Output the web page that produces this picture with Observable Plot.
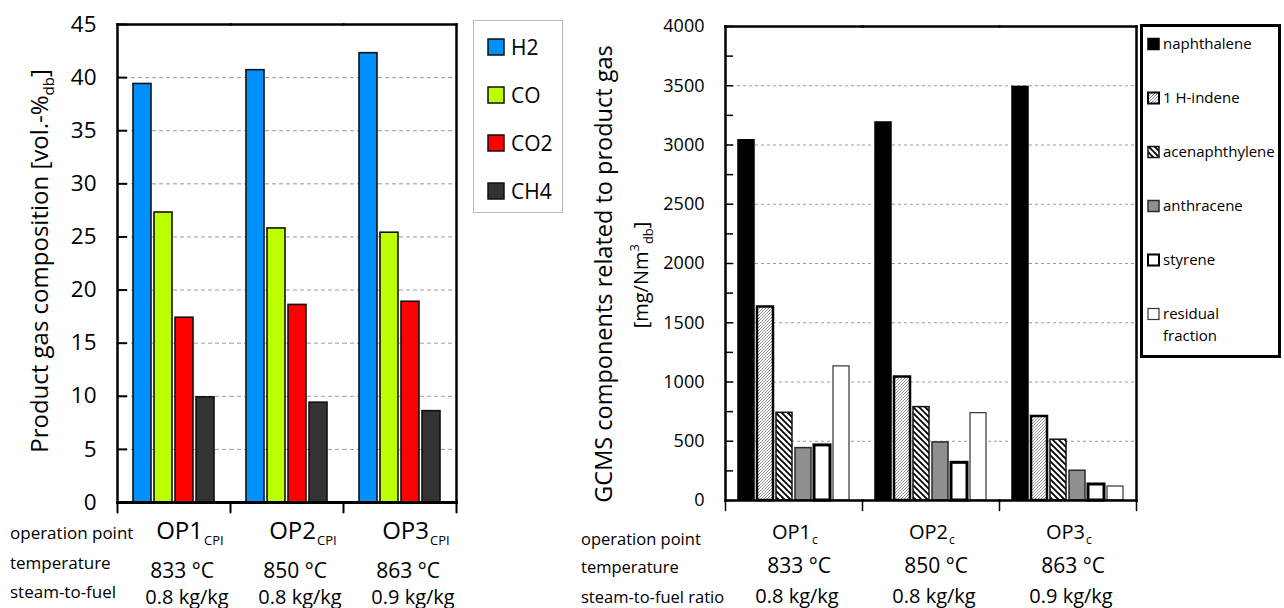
<!DOCTYPE html>
<html>
<head>
<meta charset="utf-8">
<script src="https://cdn.jsdelivr.net/npm/d3@7"></script>
<script src="https://cdn.jsdelivr.net/npm/@observablehq/plot@0.6"></script>
<style>
  html, body { margin: 0; padding: 0; background: #fff; }
  #wrap { position: relative; width: 1284px; height: 608px; overflow: hidden; font-family: "Open Sans", sans-serif; }
  #wrap > * { position: absolute; top: 0; }
  #overlay { left: 0; pointer-events: none; }
</style>
</head>
<body>
<div id="wrap">
  <svg id="defs" width="0" height="0">
    <defs>
      <pattern id="patIndene" patternUnits="userSpaceOnUse" width="3" height="3">
        <rect width="3" height="3" fill="#fff"></rect>
        <path d="M0,3 L3,0 M-1,1 L1,-1 M2,4 L4,2" stroke="#7a7a7a" stroke-width="0.8"></path>
      </pattern>
      <pattern id="patAcen" patternUnits="userSpaceOnUse" width="6" height="6">
        <rect width="6" height="6" fill="#fff"></rect>
        <path d="M0,0 L6,6 M-1,5 L1,7 M5,-1 L7,1" stroke="#000" stroke-width="1.8"></path>
      </pattern>
    </defs>
  </svg>
</div>
<script>
// ---------- data ----------
const ops = ["OP1", "OP2", "OP3"];
const leftSub = "CPI";
const rightSub = "c";
const temperatures = ["833 °C", "850 °C", "863 °C"];
const steamToFuel = ["0.8 kg/kg", "0.8 kg/kg", "0.9 kg/kg"];
const rowHeadersLeft = ["operation point", "temperature", "steam-to-fuel"];
const rowHeadersRight = ["operation point", "temperature", "steam-to-fuel ratio"];

const gases = ["H2", "CO", "CO2", "CH4"];
const h2 = [39.4, 40.7, 42.3];
const co = [27.3, 25.8, 25.4];
const co2 = [17.4, 18.6, 18.9];
const ch4 = [9.9, 9.4, 8.6];
const leftTicks = [0, 5, 10, 15, 20, 25, 30, 35, 40, 45];

const tars = ["naphthalene", "1 H-indene", "acenaphthylene", "anthracene", "styrene", "residual fraction"];
const naphthalene = [3040, 3190, 3490];
const indene = [1633, 1042, 709];
const acenaphthylene = [740, 788, 513];
const anthracene = [442, 490, 251];
const styrene = [465, 318, 135];
const residual = [1132, 737, 118];
const rightTicks = [0, 500, 1000, 1500, 2000, 2500, 3000, 3500, 4000];
const rightMinorTicks = [250, 750, 1250, 1750, 2250, 2750, 3250, 3750];

// ---------- styles ----------
const gasColors = ["#0091ff", "#bbff00", "#ff0000", "#333333"];
const tarFills = ["#000000", "url(#patIndene)", "url(#patAcen)", "#8f8f8f", "#ffffff", "#ffffff"];
const tarStrokes = ["#000000", "#000000", "#111111", "#2a2a2a", "#000000", "#333333"];
const tarStrokeWidths = [1.5, 2.5, 1.5, 1.5, 3, 1.2];
const font = "'Open Sans', sans-serif";

const gasValues = [h2, co, co2, ch4];
const tarValues = [naphthalene, indene, acenaphthylene, anthracene, styrene, residual];
const gasRows = ops.flatMap((op, i) => gases.map((gas, j) => ({op, gas, value: gasValues[j][i]})));
const tarRows = ops.flatMap((op, i) => tars.map((tar, j) => ({op, tar, value: tarValues[j][i]})));

const downTick = {draw(ctx, l) { ctx.moveTo(0, 0); ctx.lineTo(0, l); }};
const bottomTicks = (len, w) => [
  Plot.vector([0], {frameAnchor: "bottom-left", length: len, anchor: "start", shape: downTick, stroke: "#000", strokeWidth: w}),
  Plot.vector([0], {frameAnchor: "bottom-right", facetAnchor: "right", length: len, anchor: "start", shape: downTick, stroke: "#000", strokeWidth: w})
];
const frames = (w, wb) => [
  Plot.frame({anchor: "left", facetAnchor: "left", stroke: "#000", strokeWidth: w}),
  Plot.frame({anchor: "right", facetAnchor: "right", stroke: "#000", strokeWidth: w}),
  Plot.frame({anchor: "top", stroke: "#000", strokeWidth: w}),
  Plot.frame({anchor: "bottom", stroke: "#000", strokeWidth: wb})
];
const groupText = (data, text, o) => Plot.text(data, {
  fx: (d, i) => ops[i], text, frameAnchor: "bottom", lineAnchor: "bottom", fill: "#000", ...o
});

// ---------- left chart ----------
const leftPlot = Plot.plot({
  width: 470, height: 608,
  marginLeft: 117, marginRight: 14, marginTop: 24, marginBottom: 106,
  style: {fontFamily: font, background: "transparent", overflow: "visible", color: "#000"},
  fx: {domain: ops, padding: 0, axis: null, label: null},
  x: {domain: gases, paddingInner: 0.14, paddingOuter: 0.76, axis: null},
  y: {domain: [0, 45], axis: null},
  color: {type: "identity"},
  marks: [
    Plot.gridY(leftTicks.slice(1, -1), {stroke: "#9a9a9a", strokeOpacity: 1, strokeDasharray: "4,3"}),
    Plot.barY(gasRows, {fx: "op", x: "gas", y: "value", fill: d => gasColors[gases.indexOf(d.gas)], stroke: "#111", strokeWidth: 1.6}),
    Plot.axisY(leftTicks, {anchor: "left", facetAnchor: "left", tickSize: -10, tickPadding: 31, fontSize: 22.5, strokeWidth: 2, label: null, tickFormat: d => String(d)}),
    ...frames(2.5, 3),
    ...bottomTicks(10, 2),
    groupText(ops, d => d, {textAnchor: "end", dx: 29, dy: 36, fontSize: 24}),
    groupText(ops, () => leftSub, {textAnchor: "start", dx: 30, dy: 42, fontSize: 13}),
    groupText(temperatures, d => d, {dx: 8, dy: 75, fontSize: 21}),
    groupText(steamToFuel, d => d, {dx: 13, dy: 101, fontSize: 20})
  ]
});
leftPlot.style.left = "0px";

// ---------- right chart ----------
const rightPlot = Plot.plot({
  width: 500, height: 608,
  marginLeft: 74, marginRight: 13, marginTop: 26, marginBottom: 108,
  style: {fontFamily: font, background: "transparent", overflow: "visible", color: "#000"},
  fx: {domain: ops, padding: 0, axis: null, label: null},
  x: {domain: tars, paddingInner: 0.15, paddingOuter: 0.52, axis: null},
  y: {domain: [0, 4000], axis: null},
  color: {type: "identity"},
  marks: [
    Plot.gridY(rightTicks.slice(1, -1), {stroke: "#9a9a9a", strokeOpacity: 1, strokeDasharray: "3,3"}),
    ...tars.map((tar, j) => Plot.barY(tarRows.filter(r => r.tar === tar), {
      fx: "op", x: "tar", y: "value", fill: () => tarFills[j], stroke: tarStrokes[j], strokeWidth: tarStrokeWidths[j]
    })),
    Plot.axisY(rightTicks, {anchor: "left", facetAnchor: "left", tickSize: -8, tickPadding: 29, fontSize: 18, strokeWidth: 1.5, label: null, tickFormat: d => String(d)}),
    Plot.axisY(rightMinorTicks, {anchor: "left", facetAnchor: "left", tickSize: -8, tickFormat: () => "", strokeWidth: 1.5, label: null}),
    ...frames(2.5, 2.5),
    ...bottomTicks(10, 1.5),
    groupText(ops, d => d, {textAnchor: "end", dx: 17, dy: 38, fontSize: 20}),
    groupText(ops, () => rightSub, {textAnchor: "start", dx: 18, dy: 43, fontSize: 12}),
    groupText(temperatures, d => d, {dx: 5, dy: 72, fontSize: 21}),
    groupText(steamToFuel, d => d, {dx: 3, dy: 102, fontSize: 20})
  ]
});
rightPlot.style.left = "650px";

const wrap = document.getElementById("wrap");
wrap.appendChild(leftPlot);
wrap.appendChild(rightPlot);

// ---------- overlay: titles, legends, row headers ----------
const ov = d3.select(wrap).append("svg").attr("id", "overlay")
  .attr("width", 1284).attr("height", 608).style("font-family", font);

// left y title
const lt = ov.append("text").attr("transform", "translate(48,261) rotate(-90)")
  .attr("text-anchor", "middle").attr("font-size", 24).attr("fill", "#000");
lt.append("tspan").text("Product gas composition [vol.-%");
lt.append("tspan").attr("font-size", 15).attr("dy", 6).text("db");
lt.append("tspan").attr("dy", -6).text("]");

// right y title
ov.append("text").attr("transform", "translate(612,274) rotate(-90)")
  .attr("text-anchor", "middle").attr("font-size", 23.5).attr("fill", "#000")
  .text("GCMS components related to product gas");
const rt = ov.append("text").attr("transform", "translate(648,275) rotate(-90)")
  .attr("text-anchor", "middle").attr("font-size", 20).attr("fill", "#000");
rt.append("tspan").text("[mg/Nm");
rt.append("tspan").attr("font-size", 13).attr("dy", -9).text("3");
rt.append("tspan").attr("font-size", 13).attr("dy", 14).text("db");
rt.append("tspan").attr("dy", -5).text("]");

// left legend
ov.append("rect").attr("x", 473.5).attr("y", 20.5).attr("width", 89).attr("height", 192)
  .attr("fill", "#fff").attr("stroke", "#bbb").attr("stroke-width", 1);
gases.forEach((g, i) => {
  const cy = 47 + 48 * i;
  ov.append("rect").attr("x", 488).attr("y", cy - 8).attr("width", 16).attr("height", 16)
    .attr("fill", gasColors[i]).attr("stroke", "#111").attr("stroke-width", 1.5);
  ov.append("text").attr("x", 511).attr("y", cy + 7.5).attr("font-size", 21).attr("fill", "#000").text(g);
});

// right legend
ov.append("rect").attr("x", 1141.5).attr("y", 25.5).attr("width", 138).attr("height", 331)
  .attr("fill", "#fff").attr("stroke", "#000").attr("stroke-width", 3);
tars.forEach((t, i) => {
  const cy = 44 + 54 * i;
  ov.append("rect").attr("x", 1148).attr("y", cy - 5.5).attr("width", 11).attr("height", 11)
    .attr("fill", tarFills[i]).attr("stroke", tarStrokes[i]).attr("stroke-width", Math.min(tarStrokeWidths[i], 2));
  const parts = t === "residual fraction" ? ["residual", "fraction"] : [t];
  parts.forEach((p, k) => {
    ov.append("text").attr("x", 1163).attr("y", cy + 5 + 22 * k).attr("font-size", 15).attr("fill", "#000").text(p);
  });
});

// row headers
[539, 569, 598].forEach((y, i) => {
  ov.append("text").attr("x", 10).attr("y", y).attr("font-size", 17).attr("fill", "#000").text(rowHeadersLeft[i]);
});
[545, 573, 603].forEach((y, i) => {
  ov.append("text").attr("x", 581).attr("y", y).attr("font-size", 16.5).attr("fill", "#000").text(rowHeadersRight[i]);
});
</script>
</body>
</html>
